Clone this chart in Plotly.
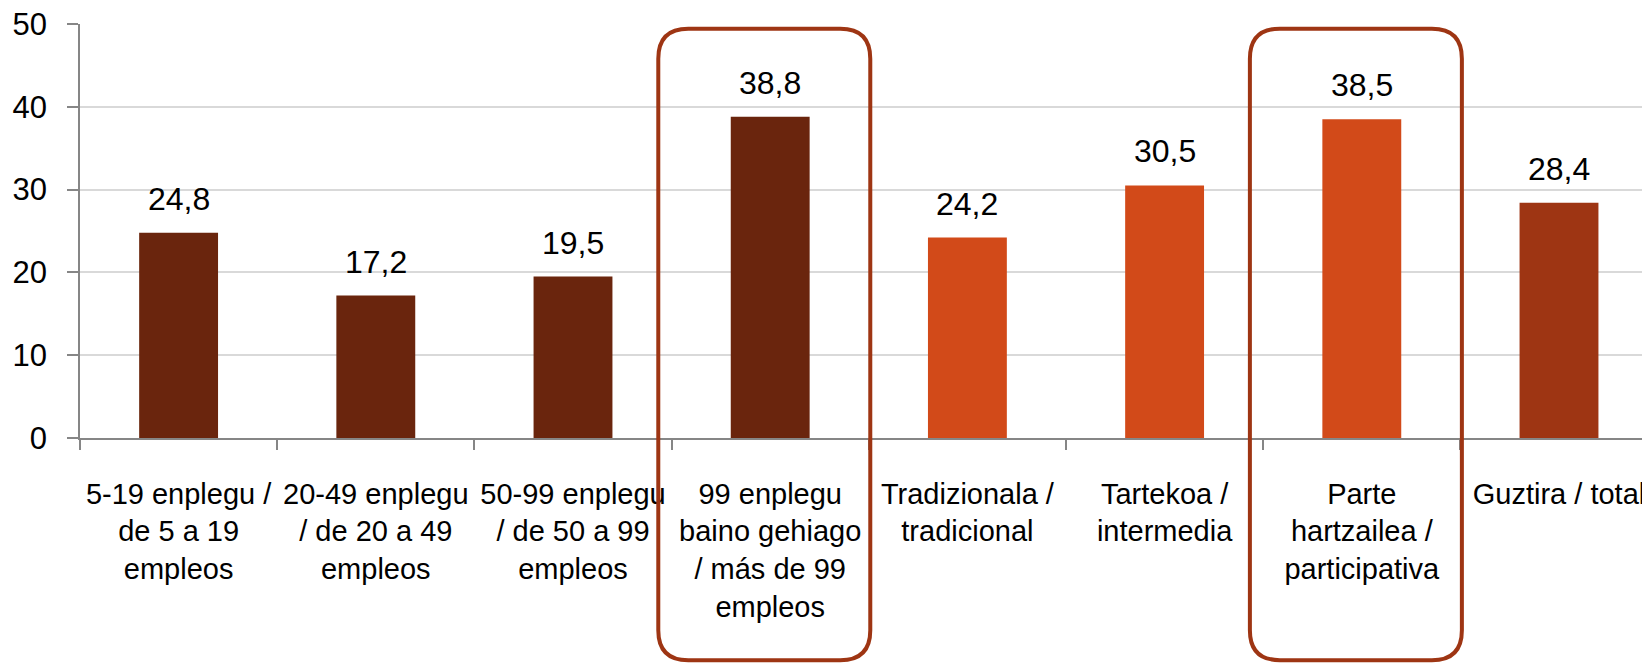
import plotly.graph_objects as go

categories = [
    "5-19 enplegu /<br>de 5 a 19<br>empleos",
    "20-49 enplegu<br>/ de 20 a 49<br>empleos",
    "50-99 enplegu<br>/ de 50 a 99<br>empleos",
    "99 enplegu<br>baino gehiago<br>/ más de 99<br>empleos",
    "Tradizionala /<br>tradicional",
    "Tartekoa /<br>intermedia",
    "Parte<br>hartzailea /<br>participativa",
    "Guztira / total",
]
values = [24.8, 17.2, 19.5, 38.8, 24.2, 30.5, 38.5, 28.4]
bar_colors = ["#6A250D", "#6A250D", "#6A250D", "#6A250D",
              "#D24A19", "#D24A19", "#D24A19", "#9E3513"]
highlighted = [3, 6]
y_ticks = [0, 10, 20, 30, 40, 50]

FONT = "Liberation Sans, Arial, sans-serif"

W, H = 1650, 664
OFF = 8  # page body margin offset
page_left, page_right, page_top, page_bottom = 80, 1650, 24.3, 438
ml = page_left - OFF
mt = page_top - OFF
mr = W - (page_right - OFF)
mb = H - (page_bottom - OFF)
plot_w = page_right - page_left
plot_h = page_bottom - page_top
cat_px = 197.2
x_lo = -0.5
x_hi = x_lo + plot_w / cat_px

fig = go.Figure()
xs = list(range(len(categories)))
fig.add_trace(go.Bar(
    x=xs, y=values, marker=dict(color=bar_colors, line=dict(width=0)),
    width=0.4, hoverinfo="skip", showlegend=False,
))

for i, v in zip(xs, values):
    fig.add_annotation(
        x=i, y=v, xref="x", yref="y",
        text=f"{v:.1f}".replace(".", ","),
        showarrow=False, yanchor="bottom", yshift=14,
        font=dict(family=FONT, size=32, color="#000000"),
    )

span = x_hi - x_lo
def cat_to_fx(i, off):
    return (i - x_lo + off) / span
def page_y_to_fy(py):
    return (page_bottom - py) / plot_h
box_half = 1.075 / 2
box_off = -0.03
top_y = page_y_to_fy(29)
bot_y = page_y_to_fy(660)
rx = 30 / plot_w
ry = 30 / plot_h
for i in highlighted:
    x0 = cat_to_fx(i, box_off - box_half)
    x1 = cat_to_fx(i, box_off + box_half)
    y0, y1 = bot_y, top_y
    path = (f"M {x0+rx},{y1} L {x1-rx},{y1} Q {x1},{y1} {x1},{y1-ry} "
            f"L {x1},{y0+ry} Q {x1},{y0} {x1-rx},{y0} "
            f"L {x0+rx},{y0} Q {x0},{y0} {x0},{y0+ry} "
            f"L {x0},{y1-ry} Q {x0},{y1} {x0+rx},{y1} Z")
    fig.add_shape(type="path", path=path, xref="paper", yref="paper",
                  line=dict(color="#9E3513", width=4), layer="above")

fig.update_layout(
    width=W, height=H,
    margin=dict(l=ml, r=mr, t=mt, b=mb, pad=0),
    paper_bgcolor="white", plot_bgcolor="white",
    font=dict(family=FONT, color="#000000"),
    bargap=0.6,
    xaxis=dict(
        tickmode="array", tickvals=xs, ticktext=categories,
        range=[x_lo, x_hi], showgrid=False, zeroline=False,
        showline=True, linecolor="#868686", linewidth=1.5,
        ticks="", tickangle=0, automargin=False, ticklabeloverflow="allow",
        tickfont=dict(family=FONT, size=29, color="#000000"),
        ticklabelstandoff=29,
    ),
    yaxis=dict(
        range=[0, 50], tickvals=y_ticks, showgrid=True, gridcolor="#D9D9D9",
        gridwidth=1.5, zeroline=False, showline=True, linecolor="#868686",
        linewidth=1.5, ticks="outside", ticklen=11, tickcolor="#868686",
        tickwidth=1.5, tickfont=dict(family=FONT, size=31, color="#000000"),
        ticklabelstandoff=14, automargin=False, ticklabeloverflow="allow",
    ),
)

fig.update_xaxes(minor=dict(tickvals=[i - 0.5 for i in range(len(categories) + 1)],
                            ticks="outside", ticklen=10, tickcolor="#868686",
                            tickwidth=1.5, showgrid=False))

fig.write_html("out.html")
